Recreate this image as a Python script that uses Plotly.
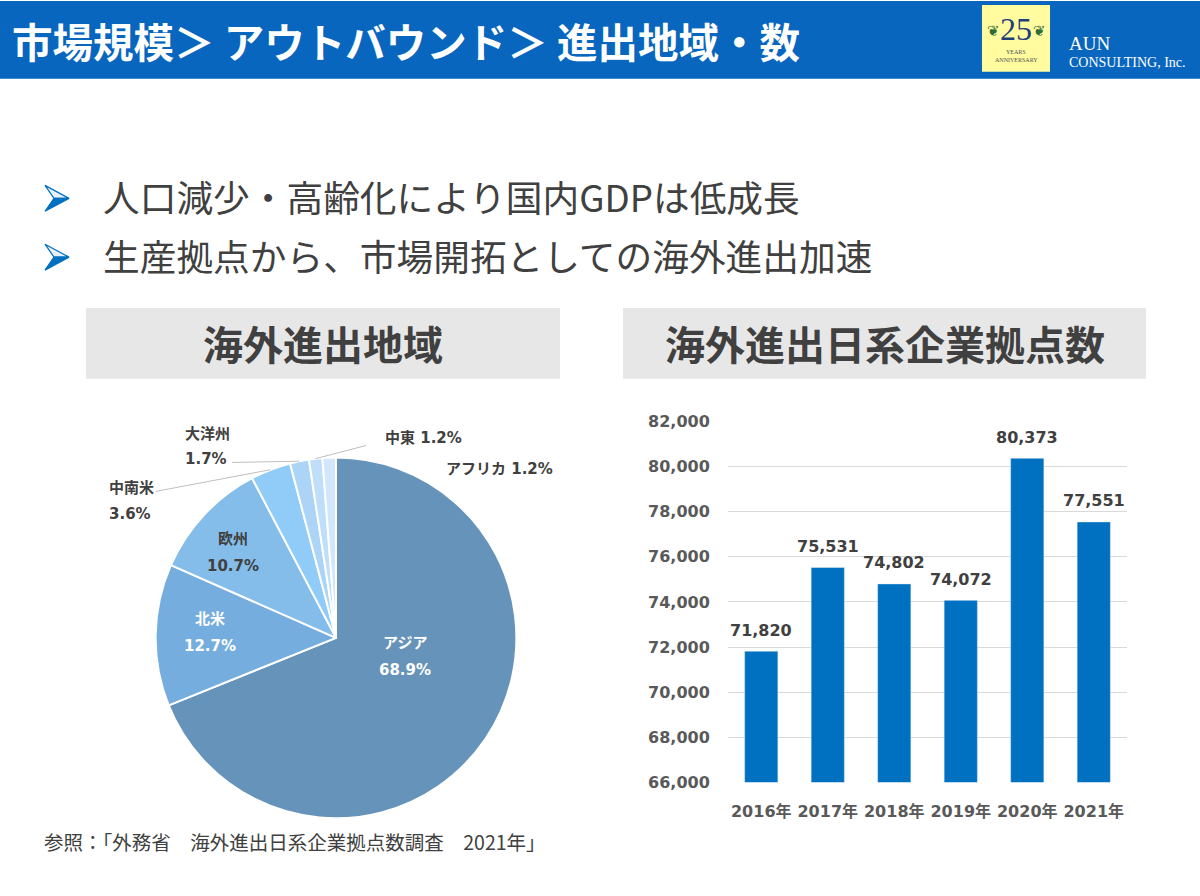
import numpy as np
import plotly.graph_objects as go

W, H = 1200, 896

# pie data
regions = ["アジア", "北米", "欧州", "中南米", "大洋州", "中東", "アフリカ"]
shares = [68.9, 12.7, 10.7, 3.6, 1.7, 1.2, 1.2]
pie_colors = ["#6693B9", "#75ADDE", "#84BDEA", "#90CCF7", "#ABD4F6", "#BEDEF9", "#D3E7FC"]

# bar data
years = ["2016年", "2017年", "2018年", "2019年", "2020年", "2021年"]
bases = [71820, 75531, 74802, 74072, 80373, 77551]
y_ticks = [66000, 68000, 70000, 72000, 74000, 76000, 78000, 80000, 82000]

title = "市場規模＞ アウトバウンド＞ 進出地域・数"
bullets = ["人口減少・高齢化により国内GDPは低成長", "生産拠点から、市場開拓としての海外進出加速"]
note = "参照：「外務省　海外進出日系企業拠点数調査　2021年」"

JP = "Noto Sans CJK JP"
NUM = "DejaVu Sans, Noto Sans CJK JP"
DARK = "#404040"
BLUE = "#0866BE"

# the page shows the plot 8px down and 880px tall, so map slide pixels accordingly
TOP, VIS = 8, 880


def px(x):
    return x / W


def py(y):
    return 1 - (y - TOP) / VIS


# pie geometry (slide pixels)
cx, cy, r = 336, 639, 181

fig = go.Figure()

fig.add_trace(go.Pie(
    labels=regions,
    values=shares,
    sort=False,
    direction="clockwise",
    rotation=0,
    marker=dict(colors=pie_colors, line=dict(color="white", width=2)),
    textinfo="none",
    hoverinfo="skip",
    showlegend=False,
    domain=dict(x=[px(cx - r), px(cx + r)], y=[py(cy + r), py(cy - r)]),
))

fig.add_trace(go.Bar(
    x=years,
    y=bases,
    marker=dict(color="#0070C0"),
    width=0.5,
    hoverinfo="skip",
    showlegend=False,
))

shapes = []
annotations = []


def label(text, x, y, size, color=DARK, family=NUM, bold=False, xanchor="center"):
    annotations.append(dict(text=text, x=px(x), y=py(y), xanchor=xanchor, yanchor="middle",
                            xref="paper", yref="paper", showarrow=False,
                            font=dict(family=family, size=size, color=color,
                                      weight="bold" if bold else "normal")))


def rect(x0, y0, x1, y1, color):
    shapes.append(dict(type="rect", xref="paper", yref="paper", x0=px(x0), x1=px(x1),
                       y0=py(y1), y1=py(y0), fillcolor=color, line=dict(width=0), layer="below"))


def poly(points, fill, line_color=None):
    d = "M " + " L ".join(f"{px(x):.5f},{py(y):.5f}" for x, y in points) + " Z"
    shapes.append(dict(type="path", xref="paper", yref="paper", path=d, fillcolor=fill,
                       line=dict(color=line_color or fill, width=1.2)))


# header bar
rect(0, 0, W, 78, BLUE)
label(title, 10, 40, 40.5, "white", JP, True, "left")

# logo
rect(982, 4, 1050, 71, "#FFFB9E")
label("25", 1016, 28, 32, "#1F3F7A", "Liberation Serif")
label("❦", 993, 30, 15, "#2E6B3A", "DejaVu Sans")
label("❦", 1039, 30, 15, "#2E6B3A", "DejaVu Sans")
label("YEARS", 1016, 51, 6, "#555555", "Liberation Serif")
label("ANNIVERSARY", 1016, 59, 6, "#555555", "Liberation Serif")
label("AUN", 1067, 43, 19, "white", "Liberation Serif", xanchor="left")
label("CONSULTING, Inc.", 1067, 62, 14, "white", "Liberation Serif", xanchor="left")

# bullets
for i, line in enumerate(bullets):
    yy = 197 + i * 59
    poly([(45, yy - 12), (69, yy + 1), (54, yy + 1)], "#E8F1FA", "#0070C0")
    poly([(54, yy + 1), (69, yy + 1), (45, yy + 14)], "#0070C0")
    label(line, 101, yy - 1, 36.7, DARK, JP, xanchor="left")

# section boxes
for x0, x1, text in [(86, 560, "海外進出地域"), (623, 1146, "海外進出日系企業拠点数")]:
    rect(x0, 308, x1, 379, "#E7E7E7")
    label(text, (x0 + x1) / 2, 343, 40, DARK, JP, True)

# pie labels
inside = [("アジア", "68.9%", 405, 644, "white"),
          ("北米", "12.7%", 210, 620, "white"),
          ("欧州", "10.7%", 233, 540, DARK)]
for a, b, x, y, col in inside:
    label(a, x, y, 15, col, bold=True)
    label(b, x, y + 27, 15, col, bold=True)
for a, b, x, y in [("中南米", "3.6%", 107, 489), ("大洋州", "1.7%", 183, 434)]:
    label(a, x, y, 15, bold=True, xanchor="left")
    label(b, x, y + 26, 15, bold=True, xanchor="left")
label("中東 1.2%", 383, 438, 15, bold=True, xanchor="left")
label("アフリカ 1.2%", 444, 470, 15, bold=True, xanchor="left")

# leader lines to slice mid-angles
cum = np.cumsum([0] + shares[:-1])
mids = (cum + np.array(shares) / 2) / sum(shares) * 2 * np.pi
edge = {name: (cx + r * np.sin(a), cy - r * np.cos(a)) for name, a in zip(regions, mids)}
leaders = [("中南米", 156, 492), ("大洋州", 232, 463), ("中東", 366, 446)]
for name, lx, ly in leaders:
    ex, ey = edge[name]
    shapes.append(dict(type="line", xref="paper", yref="paper", x0=px(lx), y0=py(ly),
                       x1=px(ex), y1=py(ey), line=dict(color="#BFBFBF", width=1)))

# bar value labels, placed on the bar tops through the axes
for yr, v in zip(years, bases):
    annotations.append(dict(text=f"{v:,}", x=yr, y=v, xref="x", yref="y",
                            yanchor="middle", yshift=21, showarrow=False,
                            font=dict(family=NUM, size=16, color=DARK, weight="bold")))

# footer
label(note, 42, 843, 19.5, DARK, JP, xanchor="left")

fig.update_layout(
    width=W, height=H,
    margin=dict(l=0, r=0, t=0, b=0),
    paper_bgcolor="white",
    plot_bgcolor="white",
    shapes=shapes,
    annotations=annotations,
    xaxis=dict(domain=[px(728), px(1127)], type="category",
               tickfont=dict(family=NUM, size=16, color="#595959", weight="bold"),
               ticks="outside", ticklen=14, tickcolor="rgba(0,0,0,0)",
               showline=False, showgrid=False, fixedrange=True),
    yaxis=dict(domain=[py(784), py(422)], range=[66000, 82000],
               tickvals=y_ticks, tickformat=",",
               tickfont=dict(family=NUM, size=16, color="#595959", weight="bold"),
               ticks="outside", ticklen=14, tickcolor="rgba(0,0,0,0)",
               showgrid=True, gridcolor="#D9D9D9", gridwidth=1,
               zeroline=False, showline=False, fixedrange=True),
    hovermode=False,
)

page_css = ("document.documentElement.style.margin='0';"
            "document.body.style.margin='0';"
            "document.body.style.padding='0';"
            "document.documentElement.style.background="
            "'linear-gradient(to bottom, " + BLUE + " 0px, " + BLUE + " 8px, #ffffff 8px)';")

fig.write_html("out.html", config={"displayModeBar": False}, post_script=page_css)
